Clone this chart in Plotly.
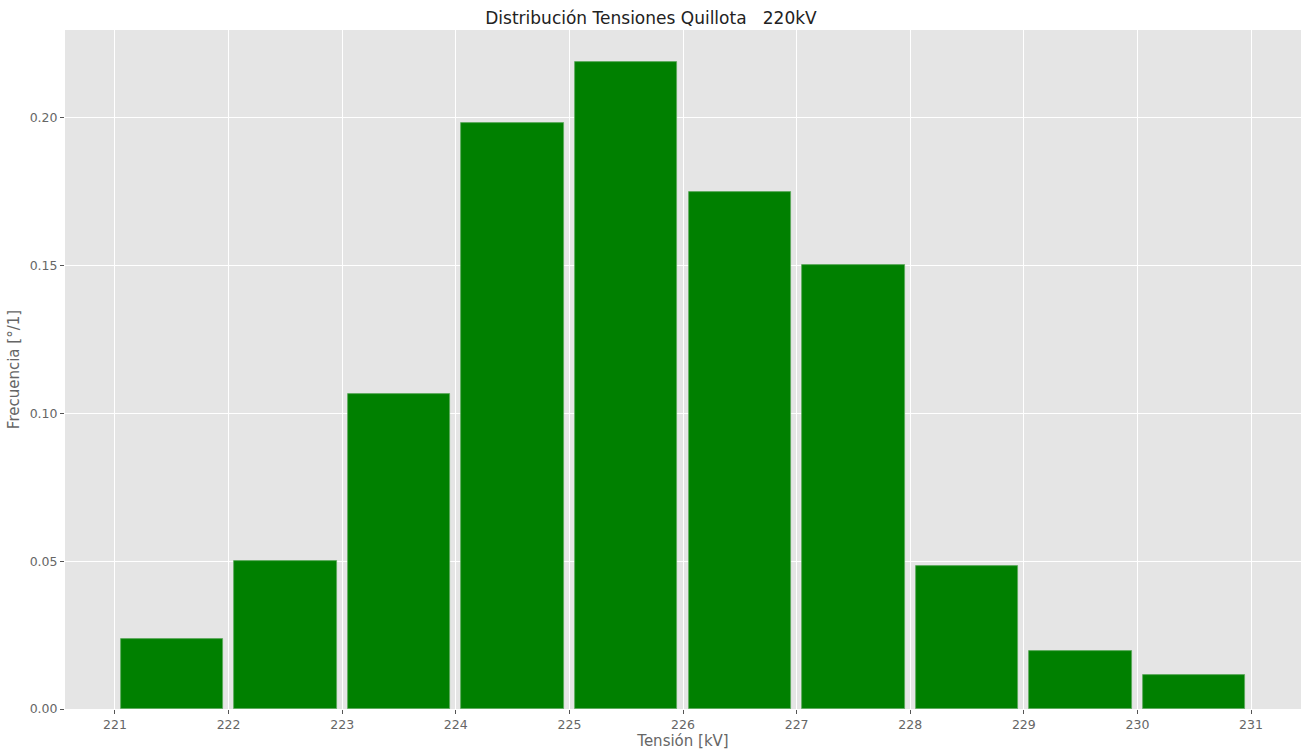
import plotly.graph_objects as go

bin_left = [221, 222, 223, 224, 225, 226, 227, 228, 229, 230]
freq = [0.0237, 0.0499, 0.1066, 0.1983, 0.2187, 0.1748, 0.1503, 0.0482, 0.0196, 0.0116]
x_ticks = [221, 222, 223, 224, 225, 226, 227, 228, 229, 230, 231]
y_ticks = [0.00, 0.05, 0.10, 0.15, 0.20]

centers = [b + 0.5 for b in bin_left]

fig = go.Figure(go.Bar(
    x=centers, y=freq, width=0.9,
    marker=dict(color="#008000", line=dict(color="#5aa85a", width=0.8)),
))

font = "DejaVu Sans"
fig.update_layout(
    width=1302, height=752,
    margin=dict(l=65, r=1, t=30, b=43),
    paper_bgcolor="white", plot_bgcolor="#E5E5E5",
    showlegend=False,
    font=dict(family=font, color="#555555", size=13),
    title=dict(text="Distribución Tensiones Quillota   220kV", x=0.5, xanchor="center",
               y=0.976, yanchor="middle",
               font=dict(family=font, size=17, color="#222222")),
    bargap=0,
)
fig.update_xaxes(
    range=[220.56, 231.44], tickvals=x_ticks, ticktext=[str(t) for t in x_ticks],
    showgrid=True, gridcolor="white", gridwidth=1.2, zeroline=False,
    ticks="outside", ticklen=4, tickcolor="#555555", tickwidth=1,
    tickfont=dict(size=12.5, color="#666666"),
    title=dict(text="Tensión [kV]", font=dict(size=15, color="#666666"), standoff=4),
)
fig.update_yaxes(
    range=[0, 0.2296], tickvals=y_ticks, ticktext=[f"{v:.2f}" for v in y_ticks],
    showgrid=True, gridcolor="white", gridwidth=1.2, zeroline=False,
    ticks="outside", ticklen=4, tickcolor="#555555", tickwidth=1,
    tickfont=dict(size=12.5, color="#666666"),
    title=dict(text="Frecuencia [°/1]", font=dict(size=15, color="#666666"), standoff=6),
)

fig.write_html(
    "out.html",
    config={"displayModeBar": False},
    post_script="document.body.style.margin='0';document.body.style.overflow='hidden';",
)
